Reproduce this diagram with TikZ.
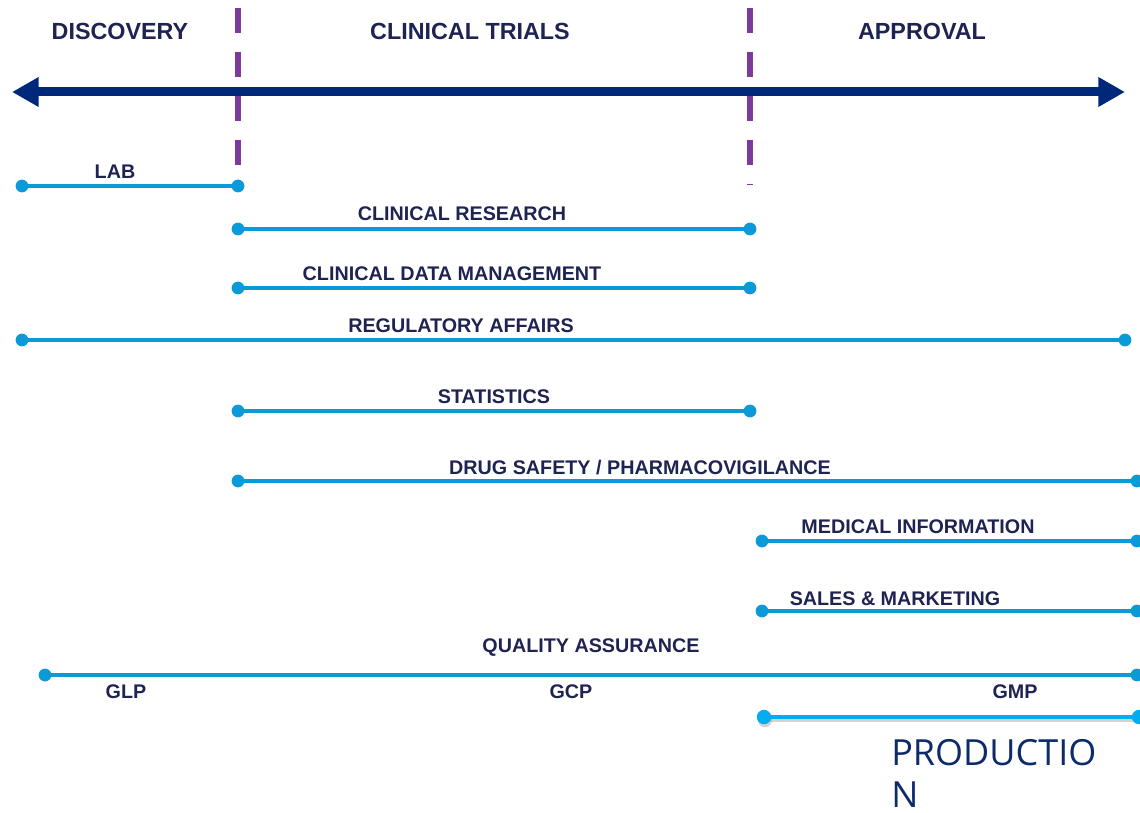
\documentclass[tikz,border=0pt]{standalone}
\usepackage{fontspec}
\setmainfont{Liberation Sans}
\newfontfamily\prodfont{Open Sans}
\usetikzlibrary{arrows.meta}
\definecolor{navy}{HTML}{00287A}
\definecolor{phase}{HTML}{7B3A9C}
\definecolor{bar}{HTML}{0A9AD8}
\definecolor{barlight}{HTML}{00AEEF}
\definecolor{txt}{HTML}{1E2352}
\definecolor{prodtxt}{HTML}{0D2B6B}
\tikzset{
  head/.style={font=\bfseries\fontsize{17.5pt}{20pt}\selectfont, text=txt, anchor=base, inner sep=0pt},
  lbl/.style={font=\bfseries\fontsize{14.8pt}{17pt}\selectfont, text=txt, anchor=base, inner sep=0pt},
  barline/.style={draw=bar, line width=3pt},
  phaseline/.style={draw=phase, line width=4.5pt, dash pattern=on 18.75pt off 14.25pt},
  timeline/.style={draw=navy, line width=6.75pt, {Triangle[length=20pt,width=21pt]}-{Triangle[length=20pt,width=21pt]}},
  dotr/.style={fill=bar},
}
\begin{document}
\begin{tikzpicture}[x=0.75pt,y=-0.75pt]
\useasboundingbox (0,0) rectangle (1140,813);
% headers
\node[head] (hdisc) at (120,40) {DISCOVERY};
\node[head] (hclin) at (470,40) {CLINICAL TRIALS};
\node[head] (happr) at (922,40) {APPROVAL};
% phase separators
\coordinate (s1t) at (238,8); \coordinate (s1b) at (238,185);
\coordinate (s2t) at (750,8); \coordinate (s2b) at (750,185);
\draw[phaseline] (s1t) -- (s1b);
\draw[phaseline] (s2t) -- (s2b);
% timeline
\coordinate (tl) at (12,92); \coordinate (tr) at (1125,92);
\draw[timeline] (tl) -- (tr);
% bars
\foreach \n/\xa/\xb/\y in {lab/22/238/186, cr/238/750/229, cdm/238/750/288, ra/22/1125/340, st/238/750/411, ds/238/1137/481, mi/762/1137/541, sm/762/1137/611, qa/45/1137/675}{
  \coordinate (\n A) at (\xa,\y);
  \coordinate (\n B) at (\xb,\y);
  \draw[barline] (\n A) -- (\n B);
  \fill[dotr] (\n A) circle[radius=4.8pt];
  \fill[dotr] (\n B) circle[radius=4.8pt];
}
% production
\coordinate (pA) at (764,717); \coordinate (pB) at (1139,717);
\draw[draw=black!35, line width=3.6pt, opacity=0.5] ([shift={(1,3)}]pA) -- ([shift={(1,3)}]pB);
\fill[black!35, opacity=0.5] ([shift={(1,3)}]pA) circle[radius=5.4pt];
\draw[draw=barlight, line width=3.6pt] (pA) -- (pB);
\fill[barlight] (pA) circle[radius=5.4pt];
\fill[barlight] (pB) circle[radius=5.4pt];
% labels
\node[lbl] (tlab) at (115,179) {LAB};
\node[lbl] (tcr) at (462,221) {CLINICAL RESEARCH};
\node[lbl] (tcdm) at (452,281) {CLINICAL DATA MANAGEMENT};
\node[lbl] (tra) at (461,332) {REGULATORY AFFAIRS};
\node[lbl] (tst) at (494,403) {STATISTICS};
\node[lbl] (tds) at (640,474) {DRUG SAFETY / PHARMACOVIGILANCE};
\node[lbl] (tmi) at (918,533) {MEDICAL INFORMATION};
\node[lbl] (tsm) at (895,605) {SALES \& MARKETING};
\node[lbl] (tqa) at (591,652) {QUALITY ASSURANCE};
\node[lbl] (tglp) at (126,698) {GLP};
\node[lbl] (tgcp) at (571,698) {GCP};
\node[lbl] (tgmp) at (1015,698) {GMP};
\node[anchor=base west, inner sep=0pt, text depth=0pt, text=prodtxt, font=\prodfont\fontsize{27pt}{31pt}\selectfont, align=left] (tprod) at (891,807) {PRODUCTIO\\N};
\end{tikzpicture}
\end{document}
